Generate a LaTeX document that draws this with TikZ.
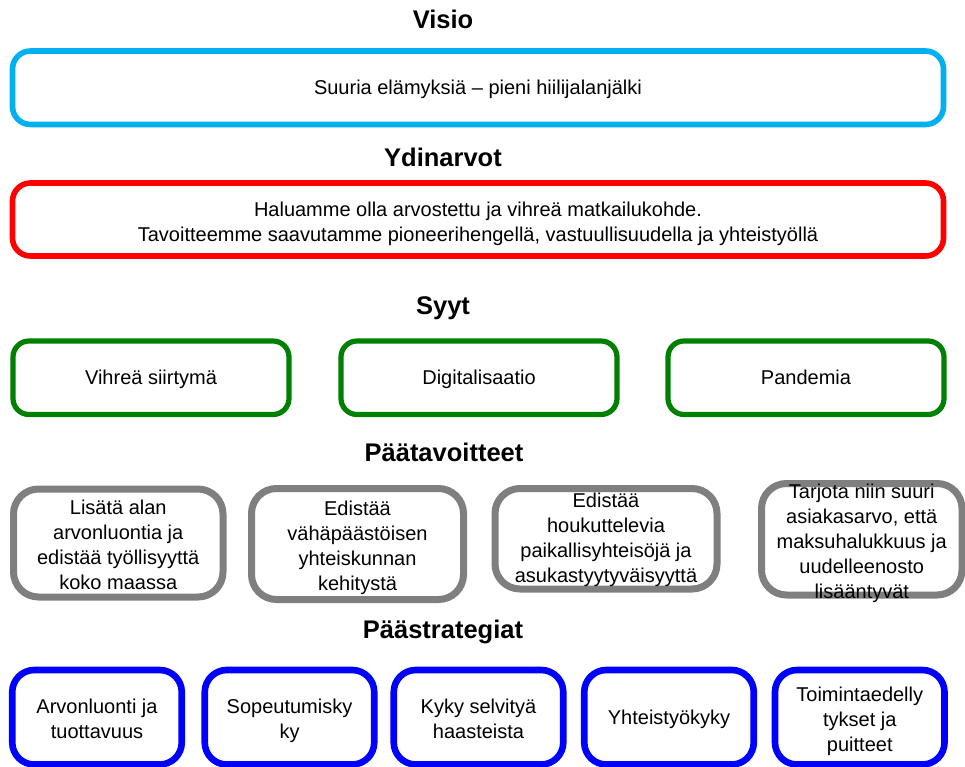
\documentclass[tikz,border=0pt]{standalone}
\usepackage{fontspec}
\setmainfont{Liberation Sans}
\definecolor{visioblue}{HTML}{00B0F0}
\definecolor{coregreen}{HTML}{008000}
\definecolor{goalgray}{HTML}{7F7F7F}
\definecolor{stratblue}{HTML}{0000FF}
\begin{document}
\begin{tikzpicture}[x=1pt,y=-1pt,
  box/.style={draw,fill=white,inner sep=0pt,align=center,font=\fontsize{20}{25}\selectfont},
  oneline/.style={text height=16pt,text depth=2pt},
  lines/.style={text height=\the\dimexpr25pt*#1-7pt\relax,text depth=0pt},
  head/.style={font=\bfseries\fontsize{25.5}{30}\selectfont},
  visiobox/.style={box,draw=visioblue,line width=5.6pt,rounded corners=18pt,minimum width=931pt,minimum height=73.5pt},
  valuebox/.style={box,draw=red,line width=5.6pt,rounded corners=18pt,minimum width=931pt,minimum height=73pt},
  causebox/.style={box,oneline,draw=coregreen,line width=5.2pt,rounded corners=16pt,minimum width=276pt,minimum height=73.5pt},
  goalbox/.style={box,draw=goalgray,line width=7pt,rounded corners=25pt},
  stratbox/.style={box,draw=stratblue,line width=6.6pt,rounded corners=22pt,minimum width=169.5pt,minimum height=94.5pt}]
\useasboundingbox (0,0) rectangle (965,767);
%visio
\node[head] (visio) at (443,19) {Visio};
\node[visiobox,oneline] (vbox) at (478,87.75) {Suuria elämyksiä – pieni hiilijalanjälki};
%ydinarvot
\node[head] (core) at (443,157) {Ydinarvot};
\node[valuebox,lines=2] (cbox) at (478,219.5) {Haluamme olla arvostettu ja vihreä matkailukohde.\\Tavoitteemme saavutamme pioneerihengellä, vastuullisuudella ja yhteistyöllä};
%syyt
\node[head] (causes) at (443,308) {Syyt};
\node[causebox] (green) at (151,377.75) {Vihreä siirtymä};
\node[causebox] (digi) at (479,377.75) {Digitalisaatio};
\node[causebox] (pandemic) at (806,377.75) {Pandemia};
%paatavoitteet
\node[head] (goals) at (444,452) {Päätavoitteet};
\node[goalbox,lines=4,minimum width=209.5pt,minimum height=108pt] (goalA) at (118.25,543) {Lisätä alan\\arvonluontia ja\\edistää työllisyyttä\\koko maassa};
\node[goalbox,lines=4,minimum width=212pt,minimum height=111pt] (goalB) at (357.5,544) {Edistää\\vähäpäästöisen\\yhteiskunnan\\kehitystä};
\node[goalbox,minimum width=222pt,minimum height=100.5pt] (goalC) at (606,538.75) {};
\node[box,lines=4,draw=none,fill=none] (goalCtext) at ([yshift=3]goalC.center) {Edistää\\houkuttelevia\\paikallisyhteisöjä ja\\asukastyytyväisyyttä};
\node[goalbox,minimum width=200.5pt,minimum height=111.5pt] (goalD) at (861.75,539.25) {};
\node[box,lines=5,draw=none,fill=none] (goalDtext) at (goalD.center) {Tarjota niin suuri\\asiakasarvo, että\\maksuhalukkuus ja\\uudelleenosto\\lisääntyvät};
%paastrategiat
\node[head] (strats) at (443,632) {Päästrategiat};
\node[stratbox,lines=2] (value) at (97,717.25) {Arvonluonti ja\\tuottavuus};
\node[stratbox,lines=2] (adapt) at (289.5,717.25) {Sopeutumisky\\ky};
\node[stratbox,lines=2] (solve) at (478.5,717.25) {Kyky selvityä\\haasteista};
\node[stratbox,oneline] (coop) at (669,717.25) {Yhteistyökyky};
\node[stratbox,lines=3] (frame) at (859.75,717.25) {Toimintaedelly\\tykset ja\\puitteet};
\end{tikzpicture}
\end{document}
